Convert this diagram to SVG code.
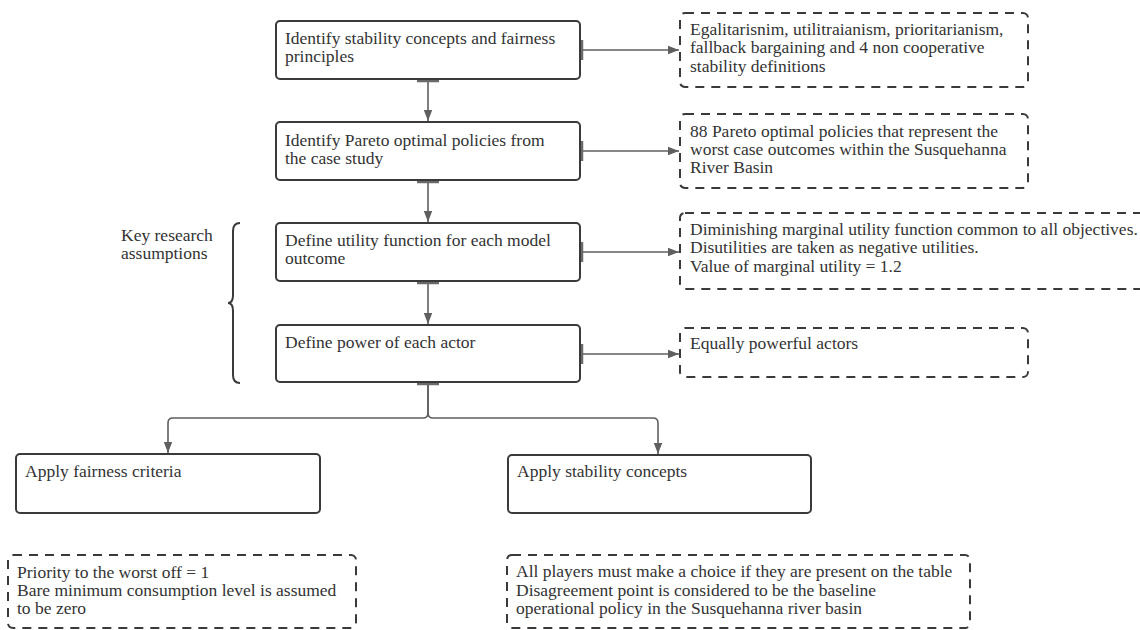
<svg xmlns="http://www.w3.org/2000/svg" width="1140" height="630" viewBox="0 0 1140 630">
  <style>
    text { font-family: "Liberation Serif", "DejaVu Serif", serif; font-size: 17.5px; fill: #333; }
    .step { fill: #fff; stroke: #3a3a3a; stroke-width: 2; }
    .note { fill: #fff; stroke: #3a3a3a; stroke-width: 2; stroke-dasharray: 9 7; }
    .link { fill: none; stroke: #5f5f5f; stroke-width: 1.6; }
    .tick { stroke: #6a6a6a; stroke-width: 2.5; }
    .brace { fill: none; stroke: #3a3a3a; stroke-width: 2; }
  </style>
  <defs>
    <marker id="arrow" viewBox="0 0 10 10" refX="10" refY="5" markerWidth="11" markerHeight="11" markerUnits="userSpaceOnUse" orient="auto">
      <path d="M0,1.2 L10,5 L0,8.8 Z" fill="#5f5f5f"/>
    </marker>
  </defs>
  <rect width="1140" height="630" fill="#fff"/>

  <!-- connectors -->
  <g id="connectors">
    <path class="link" d="M428,80 V121" marker-end="url(#arrow)"/>
    <path class="link" d="M428,181 V222" marker-end="url(#arrow)"/>
    <path class="link" d="M428,282 V324" marker-end="url(#arrow)"/>
    <path class="link" d="M581,50 H679" marker-end="url(#arrow)"/>
    <path class="link" d="M581,151 H679" marker-end="url(#arrow)"/>
    <path class="link" d="M581,252 H679" marker-end="url(#arrow)"/>
    <path class="link" d="M581,354 H679" marker-end="url(#arrow)"/>
    <path class="link" d="M428,383 V413 Q428,418 423,418 H173 Q168,418 168,423 V453" marker-end="url(#arrow)"/>
    <path class="link" d="M428,383 V413 Q428,418 433,418 H653 Q658,418 658,423 V454" marker-end="url(#arrow)"/>
    <!-- source ticks -->
    <line class="tick" x1="417" y1="81" x2="439" y2="81"/>
    <line class="tick" x1="417" y1="182" x2="439" y2="182"/>
    <line class="tick" x1="417" y1="283" x2="439" y2="283"/>
    <line class="tick" x1="417" y1="384" x2="439" y2="384"/>
    <line class="tick" x1="582" y1="40" x2="582" y2="60"/>
    <line class="tick" x1="582" y1="141" x2="582" y2="161"/>
    <line class="tick" x1="582" y1="242" x2="582" y2="262"/>
    <line class="tick" x1="582" y1="344" x2="582" y2="364"/>
  </g>

  <!-- process steps -->
  <g id="step-concepts">
    <rect class="step" x="276" y="21" width="304" height="58" rx="4"/>
    <text x="285" y="44">Identify stability concepts and fairness</text>
    <text x="285" y="62">principles</text>
  </g>
  <g id="step-pareto">
    <rect class="step" x="276" y="122" width="304" height="58" rx="4"/>
    <text x="285" y="146">Identify Pareto optimal policies from</text>
    <text x="285" y="164">the case study</text>
  </g>
  <g id="step-utility">
    <rect class="step" x="276" y="223" width="304" height="58" rx="4"/>
    <text x="285" y="246">Define utility function for each model</text>
    <text x="285" y="264">outcome</text>
  </g>
  <g id="step-power">
    <rect class="step" x="276" y="325" width="304" height="57" rx="4"/>
    <text x="285" y="348">Define power of each actor</text>
  </g>
  <g id="step-fairness">
    <rect class="step" x="16" y="454" width="304" height="59" rx="4"/>
    <text x="25" y="477">Apply fairness criteria</text>
  </g>
  <g id="step-stability">
    <rect class="step" x="508" y="455" width="303" height="58" rx="4"/>
    <text x="517" y="477">Apply stability concepts</text>
  </g>

  <!-- notes -->
  <g id="note-concepts">
    <rect class="note" x="680" y="13" width="348" height="74" rx="5"/>
    <text x="690" y="35">Egalitarisnim, utilitraianism, prioritarianism,</text>
    <text x="690" y="53">fallback bargaining and 4 non cooperative</text>
    <text x="690" y="72">stability definitions</text>
  </g>
  <g id="note-pareto">
    <rect class="note" x="680" y="114" width="348" height="74" rx="5"/>
    <text x="690" y="137">88 Pareto optimal policies that represent the</text>
    <text x="690" y="155">worst case outcomes within the Susquehanna</text>
    <text x="690" y="173">River Basin</text>
  </g>
  <g id="note-utility">
    <rect class="note" x="680" y="213" width="470" height="76" rx="5"/>
    <text x="690" y="235">Diminishing marginal utility function common to all objectives.</text>
    <text x="690" y="253">Disutilities are taken as negative utilities.</text>
    <text x="690" y="272">Value of marginal utility = 1.2</text>
  </g>
  <g id="note-power">
    <rect class="note" x="680" y="328" width="348" height="49" rx="5"/>
    <text x="690" y="349">Equally powerful actors</text>
  </g>
  <g id="note-fairness">
    <rect class="note" x="8" y="555" width="348" height="73" rx="5"/>
    <text x="17" y="578">Priority to the worst off = 1</text>
    <text x="17" y="596">Bare minimum consumption level is assumed</text>
    <text x="17" y="614">to be zero</text>
  </g>
  <g id="note-stability">
    <rect class="note" x="507" y="555" width="463" height="73" rx="5"/>
    <text x="516" y="577">All players must make a choice if they are present on the table</text>
    <text x="516" y="596">Disagreement point is considered to be the baseline</text>
    <text x="516" y="614">operational policy in the Susquehanna river basin</text>
  </g>

  <!-- key research assumptions grouping -->
  <g id="assumptions">
    <text x="121" y="241">Key research</text>
    <text x="121" y="259">assumptions</text>
    <path class="brace" d="M240,223 Q233,223 233,231 V295 Q233,303 228,303 Q233,303 233,311 V375 Q233,383 240,383"/>
  </g>
</svg>
